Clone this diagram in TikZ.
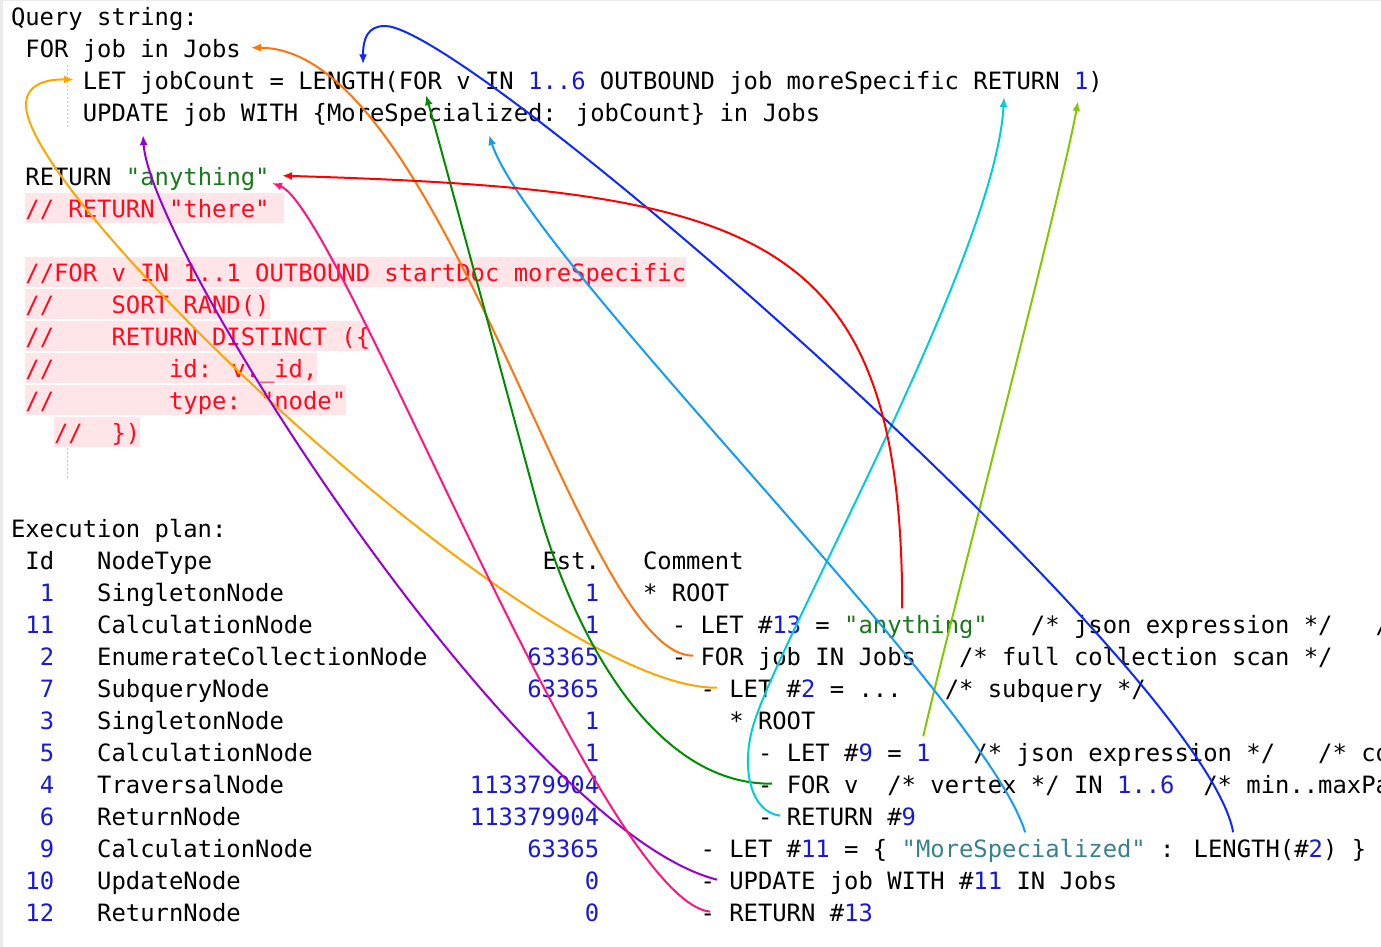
\documentclass[tikz,border=0pt]{standalone}
\usepackage{fontspec}
\newfontfamily\codefont{DejaVu Sans Mono}
\usetikzlibrary{arrows.meta}
\definecolor{numblue}{RGB}{25,25,205}
\definecolor{strgreen}{RGB}{25,120,25}
\definecolor{keyteal}{RGB}{55,130,140}
\definecolor{cmtred}{RGB}{255,10,30}
\definecolor{cmtbg}{RGB}{255,228,232}
\definecolor{guidegray}{RGB}{200,200,200}
\definecolor{framegray}{RGB}{235,235,235}
\definecolor{arr-orange}{RGB}{255,115,10}
\definecolor{arr-blue}{RGB}{15,40,250}
\definecolor{arr-red}{RGB}{255,0,0}
\definecolor{arr-pink}{RGB}{255,20,130}
\definecolor{arr-purple}{RGB}{150,0,210}
\definecolor{arr-yellow}{RGB}{255,165,0}
\definecolor{arr-green}{RGB}{0,140,0}
\definecolor{arr-sky}{RGB}{20,155,245}
\definecolor{arr-cyan}{RGB}{0,205,215}
\definecolor{arr-lime}{RGB}{130,200,0}
\newcommand{\cx}[1]{25+14.365*#1}
\newcommand{\ry}[1]{25.3+32*#1}
\newcommand{\nb}[1]{\textcolor{numblue}{#1}}
\newcommand{\qs}[1]{\textcolor{strgreen}{#1}}
\newcommand{\kt}[1]{\textcolor{keyteal}{#1}}
\tikzset{
  code/.style={
    font=\codefont\fontsize{11.93pt}{16pt}\selectfont,
    inner sep=0pt,
    text height=12.3pt,
    text depth=2.7pt,
    anchor=base west
  },
  cmt/.style={code, text=cmtred, fill=cmtbg},
  est/.style={code, anchor=base east, text=numblue},
  guide/.style={guidegray, line width=0.5pt, dash pattern=on 1pt off 1pt},
  link/.style={line width=1pt, -{Latex[length=5pt,width=4pt]}}
}

\begin{document}
\begin{tikzpicture}[x=0.5pt, y=-0.5pt]
  \clip (0,0) rectangle (1381,947);
  \fill[framegray] (0,0) rectangle (1381,1.5);
  \fill[framegray] (0,0) rectangle (3,947);
  % Query string
  \node[code] (qHead) at (10.6,\ry{0}) {Query string:};
  \node[code] (qFor) at (\cx{0},\ry{1}) {FOR job in Jobs};
  \node[code] (qLet) at (\cx{4},\ry{2}) {LET jobCount = LENGTH(FOR v IN \nb{1..6} OUTBOUND job moreSpecific RETURN \nb{1})};
  \node[code] (qUpd) at (\cx{4},\ry{3}) {UPDATE job WITH \{MoreSpecialized: jobCount\} in Jobs};
  \node[code] (qRet) at (\cx{0},\ry{5}) {RETURN \qs{"anything"}};
  \draw[guide] (67,65) -- (67,127);
  % Commented lines
  \node[cmt] (qCmtA) at (\cx{0},\ry{6}) {// RETURN "there"\phantom{x}};
  \node[cmt] (qCmtB) at (\cx{0},\ry{8}) {//FOR v IN 1..1 OUTBOUND startDoc moreSpecific};
  \node[cmt] (qCmtC) at (\cx{0},\ry{9}) {//~~~~SORT RAND()};
  \node[cmt] (qCmtD) at (\cx{0},\ry{10}) {//~~~~RETURN DISTINCT (\{};
  \node[cmt] (qCmtE) at (\cx{0},\ry{11}) {//~~~~~~~~id: v.\_id,};
  \node[cmt] (qCmtF) at (\cx{0},\ry{12}) {//~~~~~~~~type: "node"};
  \node[cmt] (qCmtG) at (\cx{2},\ry{13}) {//~~\})};
  \draw[guide] (67,448) -- (67,478);
  % Execution plan
  \node[code] (pHead) at (10.6,\ry{16}) {Execution plan:};
  \node[code] (hId) at (\cx{0},\ry{17}) {Id~~~NodeType};
  \node[code] (hEst) at (\cx{36},\ry{17}) {Est.};
  \node[code] (hCmt) at (\cx{43},\ry{17}) {Comment};
  % Row 1
  \node[code] (n1) at (\cx{0},\ry{18}) {~\nb{1}~~~SingletonNode};
  \node[est] (e1) at (\cx{40},\ry{18}) {1};
  \node[code] (c1) at (\cx{43},\ry{18}) {* ROOT};
  % Row 11
  \node[code] (n11) at (\cx{0},\ry{19}) {\nb{11}~~~CalculationNode};
  \node[est] (e11) at (\cx{40},\ry{19}) {1};
  \node[code] (c11) at (\cx{45},\ry{19}) {- LET \#\nb{13} = \qs{"anything"}~~~/* json expression */~~~/*};
  % Row 2
  \node[code] (n2) at (\cx{0},\ry{20}) {~\nb{2}~~~EnumerateCollectionNode};
  \node[est] (e2) at (\cx{40},\ry{20}) {63365};
  \node[code] (c2) at (\cx{45},\ry{20}) {- FOR job IN Jobs~~~/* full collection scan */};
  % Row 7
  \node[code] (n7) at (\cx{0},\ry{21}) {~\nb{7}~~~SubqueryNode};
  \node[est] (e7) at (\cx{40},\ry{21}) {63365};
  \node[code] (c7) at (\cx{47},\ry{21}) {- LET \#\nb{2} = ...~~~/* subquery */};
  % Row 3
  \node[code] (n3) at (\cx{0},\ry{22}) {~\nb{3}~~~SingletonNode};
  \node[est] (e3) at (\cx{40},\ry{22}) {1};
  \node[code] (c3) at (\cx{49},\ry{22}) {* ROOT};
  % Row 5
  \node[code] (n5) at (\cx{0},\ry{23}) {~\nb{5}~~~CalculationNode};
  \node[est] (e5) at (\cx{40},\ry{23}) {1};
  \node[code] (c5) at (\cx{51},\ry{23}) {- LET \#\nb{9} = \nb{1}~~~/* json expression */~~~/* co};
  % Row 4
  \node[code] (n4) at (\cx{0},\ry{24}) {~\nb{4}~~~TraversalNode};
  \node[est] (e4) at (\cx{40},\ry{24}) {113379904};
  \node[code] (c4) at (\cx{51},\ry{24}) {- FOR v~~/* vertex */ IN \nb{1..6}~~/* min..maxPa};
  % Row 6
  \node[code] (n6) at (\cx{0},\ry{25}) {~\nb{6}~~~ReturnNode};
  \node[est] (e6) at (\cx{40},\ry{25}) {113379904};
  \node[code] (c6) at (\cx{51},\ry{25}) {- RETURN \#\nb{9}};
  % Row 9
  \node[code] (n9) at (\cx{0},\ry{26}) {~\nb{9}~~~CalculationNode};
  \node[est] (e9) at (\cx{40},\ry{26}) {63365};
  \node[code] (c9) at (\cx{47},\ry{26}) {- LET \#\nb{11} = \{ \kt{"MoreSpecialized"} : LENGTH(\#\nb{2}) \}};
  % Row 10
  \node[code] (n10) at (\cx{0},\ry{27}) {\nb{10}~~~UpdateNode};
  \node[est] (e10) at (\cx{40},\ry{27}) {0};
  \node[code] (c10) at (\cx{47},\ry{27}) {- UPDATE job WITH \#\nb{11} IN Jobs};
  % Row 12
  \node[code] (n12) at (\cx{0},\ry{28}) {\nb{12}~~~ReturnNode};
  \node[est] (e12) at (\cx{40},\ry{28}) {0};
  \node[code] (c12) at (\cx{47},\ry{28}) {- RETURN \#\nb{13}};
  % Links from plan to query
  \draw[link, arr-orange] ([xshift=10.9pt]c2.west) .. controls (580,656) and (445,48) .. ([xshift=4.8pt]qFor.east);
  \draw[link, arr-yellow] ([xshift=8.5pt]c7.west) .. controls (540,690) and (26,200) .. (26,105) .. controls (26,85) and (45,79) .. ([xshift=-4.2pt]qLet.west);
  \draw[link, arr-green] ([xshift=7.3pt]c4.west) .. controls (650,785) and (570,627) .. (536,500) .. controls (502,374) and (440,145) .. ([xshift=171.8pt]qLet.south west);
  \draw[link, arr-cyan] ([xshift=11.3pt]c6.west) .. controls (750,812) and (742,768) .. (752,730) .. controls (771,652) and (995,260) .. ([shift={(460.8pt,-1pt)}]qLet.south west);
  \draw[link, arr-lime] ([xshift=82.8pt]c5.north west) .. controls (955,600) and (1060,200) .. ([shift={(497.8pt,-3pt)}]qLet.south west);
  \draw[link, arr-blue] ([xshift=266.5pt]c9.north west) .. controls (1205,670) and (470,26) .. (385,26) .. controls (368,26) and (363,38) .. ([xshift=140.3pt]qLet.north west);
  \draw[link, arr-sky] ([xshift=162.5pt]c9.north west) .. controls (985,700) and (530,260) .. ([shift={(203.3pt,-4pt)}]qUpd.south west);
  \draw[link, arr-purple] ([xshift=8.5pt]c10.west) .. controls (520,830) and (150,250) .. ([shift={(30.3pt,-4pt)}]qUpd.south west);
  \draw[link, arr-red] ([xshift=115.4pt]c11.north west) .. controls (902,230) and (760,190) .. ([xshift=6pt]qRet.east);
  \draw[link, arr-pink] ([xshift=5pt]c12.west) .. controls (600,900) and (340,209) .. ([shift={(1pt,-3.6pt)}]qRet.east);
\end{tikzpicture}
\end{document}
